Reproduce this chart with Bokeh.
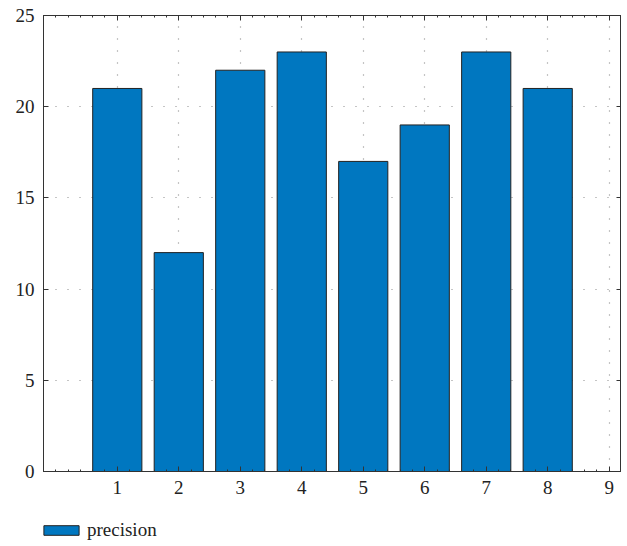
from bokeh.plotting import figure
from bokeh.models import Range1d, LinearAxis, Legend, LegendItem, FixedTicker
from bokeh.layouts import column
from bokeh.embed import file_html
from bokeh.resources import INLINE

categories = [1, 2, 3, 4, 5, 6, 7, 8]
precision = [21, 12, 22, 23, 17, 19, 23, 21]
x_ticks = [1, 2, 3, 4, 5, 6, 7, 8, 9]
y_ticks = [0, 5, 10, 15, 20, 25]
series_name = "precision"

FONT = "Liberation Serif"
FS = "19px"
BAR_FILL = "#0077C0"
BAR_LINE = "#222222"
AX = "#333333"

p = figure(width=621, height=506, output_backend="svg", toolbar_location=None,
           x_range=Range1d(-0.2, 9.2), y_range=Range1d(0, 25),
           min_border_left=43, min_border_top=15, min_border_right=0,
           min_border_bottom=35,
           background_fill_color="white", border_fill_color="white")
p.outline_line_color = AX
p.outline_line_width = 1

r = p.vbar(x=categories, top=precision, width=0.8, bottom=0,
           fill_color=BAR_FILL, line_color=BAR_LINE, line_width=1)

x_minor = [x / 5 for x in range(-1, 47)]

for ax in (p.xaxis[0], p.yaxis[0]):
    ax.major_tick_in = 5
    ax.major_tick_out = 0
    ax.minor_tick_in = 2
    ax.minor_tick_out = 0
    ax.axis_line_color = AX
    ax.major_tick_line_color = AX
    ax.minor_tick_line_color = AX
    ax.major_label_text_font = FONT
    ax.major_label_text_font_size = FS
    ax.major_label_text_color = "#222222"

p.xaxis[0].ticker = FixedTicker(ticks=x_ticks, minor_ticks=x_minor)
p.yaxis[0].ticker = FixedTicker(ticks=y_ticks)
p.xaxis[0].major_label_standoff = 9
p.yaxis[0].major_label_standoff = 9

top = LinearAxis(ticker=FixedTicker(ticks=x_ticks, minor_ticks=x_minor),
                 major_label_overrides={t: "" for t in x_ticks},
                 major_tick_in=5, major_tick_out=0, major_label_standoff=0,
                 minor_tick_in=2, minor_tick_out=0, axis_line_color=AX,
                 major_tick_line_color=AX, minor_tick_line_color=AX)
right = LinearAxis(ticker=FixedTicker(ticks=y_ticks),
                   major_label_overrides={t: "" for t in y_ticks},
                   major_tick_in=5, major_tick_out=0, major_label_standoff=0,
                   minor_tick_in=0, minor_tick_out=0, axis_line_color=AX,
                   major_tick_line_color=AX)
p.add_layout(top, "above")
p.add_layout(right, "right")

p.xgrid.ticker = FixedTicker(ticks=x_ticks)
p.ygrid.ticker = FixedTicker(ticks=y_ticks)
for g in (p.xgrid[0], p.ygrid[0]):
    g.grid_line_color = "#8a8a8a"
    g.grid_line_dash = "1 11"
    g.grid_line_width = 1.2

# legend strip below the chart (proxy renderer sits outside its visible range)
p2 = figure(width=621, height=38, output_backend="svg", toolbar_location=None,
            min_border=0, x_range=Range1d(100, 101), y_range=Range1d(100, 101),
            background_fill_color="white", border_fill_color="white")
p2.outline_line_color = None
p2.axis.visible = False
p2.grid.visible = False
proxy = p2.vbar(x=categories[:1], top=precision[:1], width=0.8,
                fill_color=BAR_FILL, line_color=BAR_LINE, line_width=1)
legend = Legend(items=[LegendItem(label=series_name, renderers=[proxy])],
                location=(-4, 3), orientation="vertical",
                label_text_font=FONT, label_text_font_size=FS, label_text_color="#222222",
                glyph_width=44, glyph_height=12, border_line_color=None,
                background_fill_alpha=0, padding=0, margin=0, label_standoff=4)
p2.add_layout(legend, "center")

open("out.html", "w").write(file_html(column(p, p2), INLINE))
